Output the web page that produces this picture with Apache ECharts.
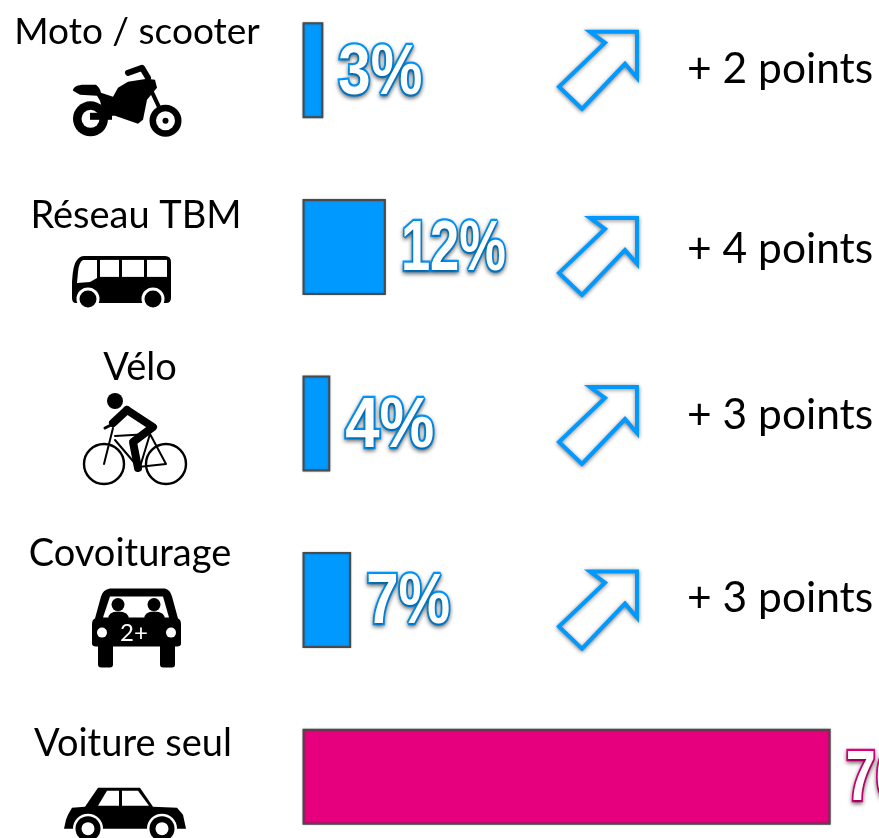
<!DOCTYPE html>
<html>
<head>
<meta charset="utf-8">
<style>html,body{margin:0;padding:0;background:#fff;overflow:hidden}#chart{width:879px;height:838px}</style>
<script src="https://cdn.jsdelivr.net/npm/echarts@6/dist/echarts.min.js"></script>
</head>
<body>
<div id="chart"></div>
<script>
const categories = ["Moto / scooter", "Réseau TBM", "Vélo", "Covoiturage", "Voiture seul"];
const shares = [3, 12, 4, 7, 76];
const shareLabels = ["3%", "12%", "4%", "7%", "76%"];
const deltas = ["+ 2 points", "+ 4 points", "+ 3 points", "+ 3 points", null];

// decalages verticaux par rapport au centre de la barre
const nameOffsets = [-38.5, -31.5, -56, -46.5, -33];
const nameCenters = [137, 136, 140, 130, 133];
const nameSizes = [37, 38, 38, 38, 38];
const arrowOffsets = [-0.5, 9, 1.5, 9.5];
const deltaOffsets = [-1, 2.5, -8, -2];
const labelScales = [0.83, 0.75, 0.88, 0.83, 0.77];
// centre de barre pour lequel chaque picto a ete dessine
const iconBase = [70.5, 247, 423.5, 600.5, 777];

const BLUE = "#0099ff";
const PINK = "#e6007e";
const fontName = "Lato, 'Noto Sans', sans-serif";

const arrowPoints = [[39, -38], [-8, -38], [7, -27], [-39, 17], [-16, 39], [27, -6], [39, 8]];

const chart = echarts.init(document.getElementById("chart"));

function black(d) { return { type: "path", shape: { pathData: d }, style: { fill: "#000" } }; }
function white(d) { return { type: "path", shape: { pathData: d }, style: { fill: "#fff" } }; }
function circle(cx, cy, r, fill) { return { type: "circle", shape: { cx, cy, r }, style: { fill } }; }
function ring(cx, cy, r, w) { return { type: "circle", shape: { cx, cy, r }, style: { fill: "none", stroke: "#000", lineWidth: w } }; }
function line(d, w) { return { type: "path", shape: { pathData: d }, style: { fill: "none", stroke: "#000", lineWidth: w, lineCap: "round", lineJoin: "round" } }; }

// pictos dessines a la main
const icons = [
    [ // moto
        line("M128,73 L142,68 L148,78", 6),
        line("M150,88 L165,120", 4),
        black("M73,91 C73,87 78,85 84,85 L96,85 Q100,88 101,93 L113,97 L118,88 L128,82 L147,79 L155,80 L157,88 L147,100 L143,120 L138,124 L115,116 L104,116 L100,101 L97,96 L80,95 Z"),
        circle(90.5, 119, 17.5, "#000"), circle(90.5, 119, 9, "#fff"),
        black("M90,113 L112,113 L112,120 L90,120 Z"),
        circle(165.5, 121, 16, "#000"), circle(165.5, 121, 9.5, "#fff"), circle(165.5, 121, 3, "#000")
    ],
    [ // bus
        black("M84,256 L165,256 Q171,256 171,262 L171,298 Q171,303 166,303 L76,303 Q72,303 72,298 L72,282 Q73,264 77,260 Q80,256 84,256 Z"),
        white("M83,260 L97,260 L97,278 L90,282 L77,283 L78,272 Q79,262 83,260 Z"),
        white("M100,260 L119,260 L119,277 L100,277 Z"),
        white("M122,260 L144,260 L144,277 L122,277 Z"),
        white("M147,260 L167,260 L167,277 L147,277 Z"),
        circle(88, 299, 11.5, "#fff"), circle(88, 299, 8.5, "#000"),
        circle(153, 299, 11.5, "#fff"), circle(153, 299, 8.5, "#000")
    ],
    [ // velo
        circle(115, 401, 8, "#000"),
        ring(104, 464, 20, 2.4), ring(166, 464, 20, 2.4),
        line("M113,428 L104,464 M115,436 L150,434 M115,440 L138,467 L166,464 L150,434 L140,467", 2),
        line("M127,410 L153,427 L133,442 L138,468", 8),
        line("M127,410 L113,423", 8),
        line("M113,424 L105,428", 3)
    ],
    [ // voiture de face
        black("M110,589 L165,589 Q170,590 172,597 L178,619 Q181,620 181,625 L181,644 Q181,647 177,647 L175,647 L175,665 Q175,668 172,668 L163,668 Q160,668 160,665 L160,647 L113,647 L113,665 Q113,668 110,668 L101,668 Q98,668 98,665 L98,647 L96,647 Q92,647 92,644 L92,625 Q92,620 95,619 L101,597 Q103,590 110,589 Z"),
        white("M110,597 L163,597 L169,618 L103,618 Z"),
        circle(118, 605, 6.5, "#000"), circle(154, 605, 6.5, "#000"),
        black("M108,620 Q108,612 118,612 Q129,612 129,620 Z"),
        black("M144,620 Q144,612 154,612 Q165,612 165,620 Z"),
        circle(102, 633, 5, "#fff"), circle(171, 633, 5, "#fff"),
        { type: "text", style: { x: 134, y: 634, text: "2+", fill: "#fff", font: "24px " + fontName, textAlign: "center", textVerticalAlign: "middle" } }
    ],
    [ // voiture de profil
        black("M64,829 L66,820 L68,815 L72,808 L85,807 L98,788 L140,788 L153,807 L177,808 L183,815 L186,829 Z"),
        white("M98,806 L107,791 L119,791 L119,806 Z"),
        white("M122,791 L138,791 L149,806 L122,806 Z"),
        circle(88, 829, 15, "#fff"), circle(88, 829, 12.5, "#000"), circle(88, 829, 6.5, "#fff"),
        circle(162, 829, 15, "#fff"), circle(162, 829, 12.5, "#000"), circle(162, 829, 6.5, "#fff")
    ]
];

function renderRow(params, api) {
    const i = params.dataIndex;
    const end = api.coord([shares[i], i]);
    const y = end[1];
    const color = i === 4 ? PINK : BLUE;
    const children = [{
        type: "text",
        style: {
            x: nameCenters[i], y: y + nameOffsets[i], text: categories[i], fill: "#000",
            font: nameSizes[i] + "px " + fontName, textAlign: "center", textVerticalAlign: "middle"
        }
    }, {
        type: "group",
        y: y - iconBase[i],
        children: icons[i]
    }, {
        // pourcentage creux, ecrase a l'horizontale faute de police etroite
        type: "text",
        x: end[0] + 15, y: y + 4, scaleX: labelScales[i],
        style: {
            x: 0, y: 0, text: shareLabels[i], fill: "#fff", stroke: color, lineWidth: 4.5,
            font: "bold 70px 'Liberation Sans', sans-serif", textAlign: "left", textVerticalAlign: "middle",
            textShadowBlur: 4, textShadowColor: "rgba(0,0,0,0.45)", textShadowOffsetY: 2
        }
    }];
    if (deltas[i]) {
        children.push({
            type: "polygon",
            x: 598, y: y + arrowOffsets[i],
            shape: { points: arrowPoints },
            style: { fill: "#fff", stroke: BLUE, lineWidth: 4, shadowBlur: 4, shadowColor: "rgba(0,0,0,0.45)", shadowOffsetY: 1 }
        });
        children.push({
            type: "text",
            style: {
                x: 687, y: y + deltaOffsets[i], text: deltas[i], fill: "#000",
                font: "42.5px " + fontName, textAlign: "left", textVerticalAlign: "middle"
            }
        });
    }
    return { type: "group", children };
}

chart.setOption({
    animation: false,
    backgroundColor: "#fff",
    // grille plus haute que la page : les barres sont espacees de 176,5 px
    grid: { left: 302.5, top: -18, width: 556, height: 883, outerBoundsMode: "none" },
    xAxis: { type: "value", min: 0, max: 80, show: false },
    yAxis: { type: "category", data: categories, inverse: true, show: false },
    series: [
        {
            type: "bar",
            barWidth: 96,
            data: shares.map((v, i) => ({
                value: v,
                itemStyle: { color: i === 4 ? PINK : BLUE }
            })),
            itemStyle: { borderColor: "#4a4a4a", borderWidth: 2, shadowBlur: 2, shadowColor: "rgba(0,0,0,0.25)" }
        },
        {
            type: "custom",
            coordinateSystem: "cartesian2d",
            renderItem: renderRow,
            data: categories.map((c, i) => [0, i]),
            encode: { x: 0, y: 1 },
            clip: false,
            silent: true,
            z: 5
        }
    ]
});
</script>
</body>
</html>
